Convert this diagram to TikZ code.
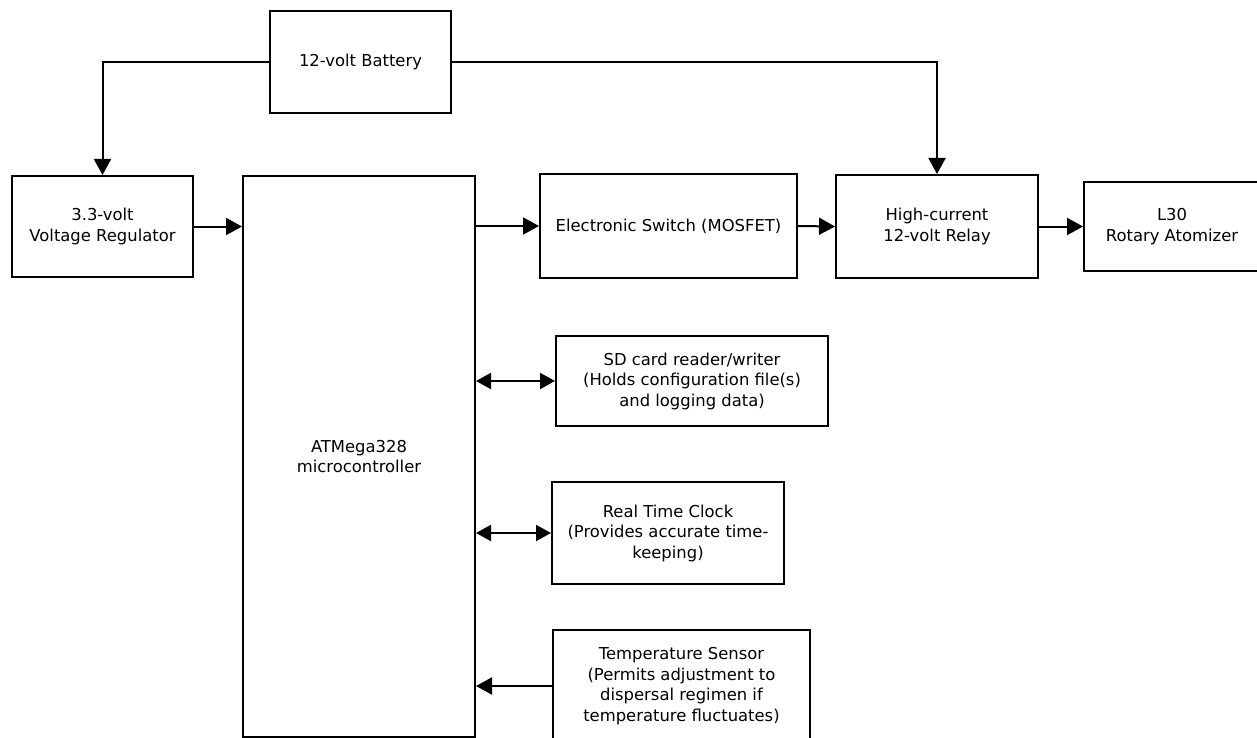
\documentclass[tikz,border=0pt]{standalone}
\usepackage{fontspec}
\setmainfont{DejaVu Sans}
\usetikzlibrary{arrows.meta}
\begin{document}
\begin{tikzpicture}[x=1pt,y=-1pt,
  blk/.style={draw=black,line width=2pt,rectangle,align=center,inner sep=0pt,
    font=\fontsize{16.4}{20.5}\selectfont},
  arr/.style={line width=2pt,-{Triangle[length=16pt,width=17pt]}},
  biarr/.style={line width=2pt,{Triangle[length=15pt,width=16pt]}-{Triangle[length=15pt,width=16pt]}}]
\useasboundingbox (0,0) rectangle (1257,738);
\clip (0,0) rectangle (1257,738);
\node[blk,minimum width=181pt,minimum height=102pt] (bat) at (360.5,62) {12-volt Battery};
\node[blk,minimum width=181pt,minimum height=101pt] (reg) at (102.5,226.5) {3.3-volt\\Voltage Regulator};
\node[blk,minimum width=232pt,minimum height=561pt] (mcu) at (359,456.5) {ATMega328\\microcontroller};
\node[blk,minimum width=257pt,minimum height=104pt] (sw) at (668.5,226) {Electronic Switch (MOSFET)};
\node[blk,minimum width=202pt,minimum height=103pt] (relay) at (937,226.5) {High-current\\12-volt Relay};
\node[blk,minimum width=176pt,minimum height=89pt] (atom) at (1172,226.5) {L30\\Rotary Atomizer};
\node[blk,minimum width=272pt,minimum height=90pt] (sd) at (692,381) {SD card reader/writer\\(Holds configuration file(s)\\and logging data)};
\node[blk,minimum width=232pt,minimum height=102pt] (rtc) at (668,533) {Real Time Clock\\(Provides accurate time-\\keeping)};
\node[blk,minimum width=257pt,minimum height=112pt] (temp) at (681.5,686) {Temperature Sensor\\(Permits adjustment to\\dispersal regimen if\\temperature fluctuates)};
\draw[arr] (bat.west) -| (reg.north);
\draw[arr] (bat.east) -| (relay.north);
\draw[arr] (reg.east) -- (mcu.west |- reg.east);
\draw[arr] (mcu.east |- sw.west) -- (sw.west);
\draw[arr] (sw.east) -- (relay.west);
\draw[arr] (relay.east) -- (atom.west);
\draw[biarr] (mcu.east |- sd.west) -- (sd.west);
\draw[biarr] (mcu.east |- rtc.west) -- (rtc.west);
\draw[arr] (temp.west) -- (mcu.east |- temp.west);
\end{tikzpicture}
\end{document}
